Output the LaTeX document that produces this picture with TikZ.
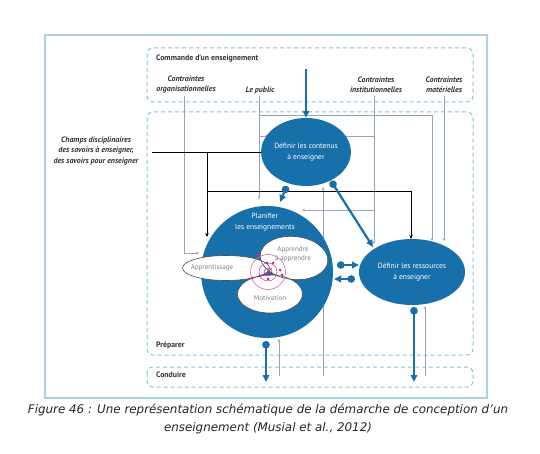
\documentclass[tikz,border=0pt]{standalone}
\usepackage{fontspec}
\setmainfont{PT Sans}
\newfontfamily\capfont{DejaVu Sans}
\usetikzlibrary{shapes.geometric,arrows.meta}
\definecolor{bl}{RGB}{24,112,170}
\definecolor{dsh}{RGB}{140,195,220}
\definecolor{frm}{RGB}{170,210,225}
\definecolor{thn}{RGB}{150,165,180}
\definecolor{mag}{RGB}{200,40,130}
\definecolor{txt}{RGB}{50,50,50}
\tikzset{
  lab/.style={font=\fontsize{7.9}{9.5}\selectfont\bfseries\itshape, text=txt, align=center, inner sep=0},
  hdr/.style={font=\fontsize{7.8}{9}\selectfont\bfseries, text=txt, anchor=west, inner sep=0},
  dbox/.style={draw=dsh, dash pattern=on 4pt off 3pt, line width=1, rounded corners=6},
  bigell/.style={ellipse, fill=bl, inner sep=0, text=white, align=center, font=\fontsize{7.5}{10.5}\selectfont},
  smfill/.style={ellipse, fill=white, inner sep=0},
  smdraw/.style={ellipse, draw=black!70, line width=0.6, inner sep=0},
  smtext/.style={text=black!50, align=center, font=\fontsize{7}{8.5}\selectfont, inner sep=0},
  thinline/.style={draw=thn, line width=0.5},
  thinarr/.style={thinline, -{Stealth[length=3pt,width=2.6pt]}},
  blkarr/.style={draw=black, line width=0.7, -{Stealth[length=4pt,width=3.5pt]}},
  thickarr/.style={draw=bl, line width=2.2, -{Triangle[length=7pt,width=6.5pt]}},
  ballthick/.style={draw=bl, line width=2.2, {Circle[length=7.5pt]}-{Triangle[length=7pt,width=6.5pt]}},
  mdot/.style={circle, fill=mag, inner sep=0, minimum size=3pt}
}
\begin{document}
\begin{tikzpicture}[x=1pt,y=-1pt]
\fill[white] (0,0) rectangle (540,454);
\useasboundingbox (0,0) rectangle (540,454);
% outer frame
\draw[frm, line width=1.4] (45,35) rectangle (487,398);
% dashed regions
\draw[dbox] (147,48) rectangle (473,102);
\draw[dbox] (147,112) rectangle (473,355);
\draw[dbox] (147,367) rectangle (473,387);
% headings
\node[hdr] (com) at (156,59) {Commande d’un enseignement};
\node[hdr] (prep) at (156,345) {Préparer};
\node[hdr] (cond) at (156,375) {Conduire};
% constraint labels
\node[lab] (org) at (186,84.5) {Contraintes\\organisationnelles};
\node[lab] (pub) at (260,90) {Le public};
\node[lab] (inst) at (376,84.5) {Contraintes\\institutionnelles};
\node[lab] (mat) at (444,84.5) {Contraintes\\matérielles};
\node[lab, font=\fontsize{7.9}{10.5}\selectfont\bfseries\itshape] (champ) at (96,151) {Champs disciplinaires\\des savoirs à enseigner,\\des savoirs pour enseigner};
% junction coordinates
\coordinate (orgT) at (184,96);
\coordinate (orgB) at (184,253);
\coordinate (pubT) at (259,96);
\coordinate (pubH) at (259,115);
\coordinate (pubR) at (432,115);
\coordinate (pubC) at (259,136);
\coordinate (instT) at (374,96);
\coordinate (instC) at (374,136);
\coordinate (instP) at (374,210);
\coordinate (matT) at (444,96);
\coordinate (chA) at (152,152);
\coordinate (chJ) at (207,152);
\coordinate (chK) at (207,191);
\coordinate (chR) at (411,191);
\coordinate (fb1) at (323,376);
\coordinate (fb2) at (279,376);
\coordinate (fb3) at (425,376);
\coordinate (top) at (306,69);
\coordinate (out1) at (266,382);
\coordinate (out2) at (414,382);
% thin connectors
\draw[thinarr] (orgT) -- (orgB) -- (199,253);
\draw[thinarr] (pubT) -- (259,199);
\draw[thinarr] (pubH) -- (pubR) -- (432,241);
\draw[thinarr] (pubC) -- (268,136);
\draw[thinarr] (instT) -- (374,244);
\draw[thinarr] (instC) -- (343,136);
\draw[thinarr] (instP) -- (302,210);
\draw[thinarr] (matT) -- (444,241);
\draw[thinarr] (fb1) -- (323,187);
\draw[thinarr] (fb2) -- (279,339);
\draw[thinarr] (fb3) -- (425,306);
% black connectors
\draw[blkarr] (chA) -- (265,152);
\draw[blkarr] (chJ) -- (207,237);
\draw[blkarr] (chK) -- (chR) -- (411,239);
% main ellipses
\node[bigell, minimum width=80, minimum height=68] (cont) at (306,152) {Définir les contenus\\à enseigner};
\node[circle, fill=bl, minimum size=132, inner sep=0] (plan) at (267,272) {};
\node[bigell, minimum width=106, minimum height=66] (res) at (412,272) {Définir les ressources\\à enseigner};
\node[text=white, align=center, font=\fontsize{7.5}{10.5}\selectfont, inner sep=0] (plant) at (265,222) {Planifier\\les enseignements};
% inner ellipses: fills, then outlines
\node[smfill, minimum width=68, minimum height=43, rotate=-6] (app2) at (294,258) {};
\node[smfill, minimum width=65, minimum height=38] (mot) at (270,294) {};
\node[smfill, minimum width=87, minimum height=25] (appr) at (226,268) {};
\node[smdraw, minimum width=68, minimum height=43, rotate=-6] (app2o) at (294,258) {};
\node[smdraw, minimum width=65, minimum height=38] (moto) at (270,294) {};
\node[smdraw, minimum width=87, minimum height=25] (appro) at (226,268) {};
\node[smtext] (app2t) at (293,254) {Apprendre\\à apprendre};
\node[smtext] (mott) at (270,298) {Motivation};
\node[smtext] (apprt) at (212,268) {Apprentissage};
% magenta spiral
\draw[mag!70, line width=0.6] (268,272) circle (17.5);
\draw[mag!80, line width=0.6] (268,272) circle (9);
\draw[mag, line width=0.6] (268,272) circle (4);
\node[mdot] (m1) at (257,255) {};
\node[mdot] (m2) at (252,278) {};
\node[mdot] (m3) at (267,263) {};
\node[mdot] (m4) at (273,263) {};
\node[mdot] (m5) at (280,270) {};
\node[mdot] (m6) at (282,275) {};
\node[mdot] (m7) at (268,279) {};
\node[mdot] (m8) at (260,276) {};
\draw[mag, line width=0.6] (263,276) -- (268,272) -- (272,268);
% thick connectors
\draw[thickarr] (top) -- (cont.north);
\draw[ballthick] (287,186) -- (280,202);
\draw[ballthick] (331,181) -- (373,247);
\draw[ballthick] (337,265) -- (359,265);
\draw[ballthick] (355,279) -- (334,279);
\draw[ballthick] (266,341) -- (out1);
\draw[ballthick] (414,307) -- (out2);
% caption
\node[font=\capfont\itshape\fontsize{11.9}{18}\selectfont, align=center, text=black!85, inner sep=0] (cap) at (268,419) {Figure 46 : Une représentation schématique de la démarche de conception d’un\\enseignement (Musial et al., 2012)};
\end{tikzpicture}
\end{document}
